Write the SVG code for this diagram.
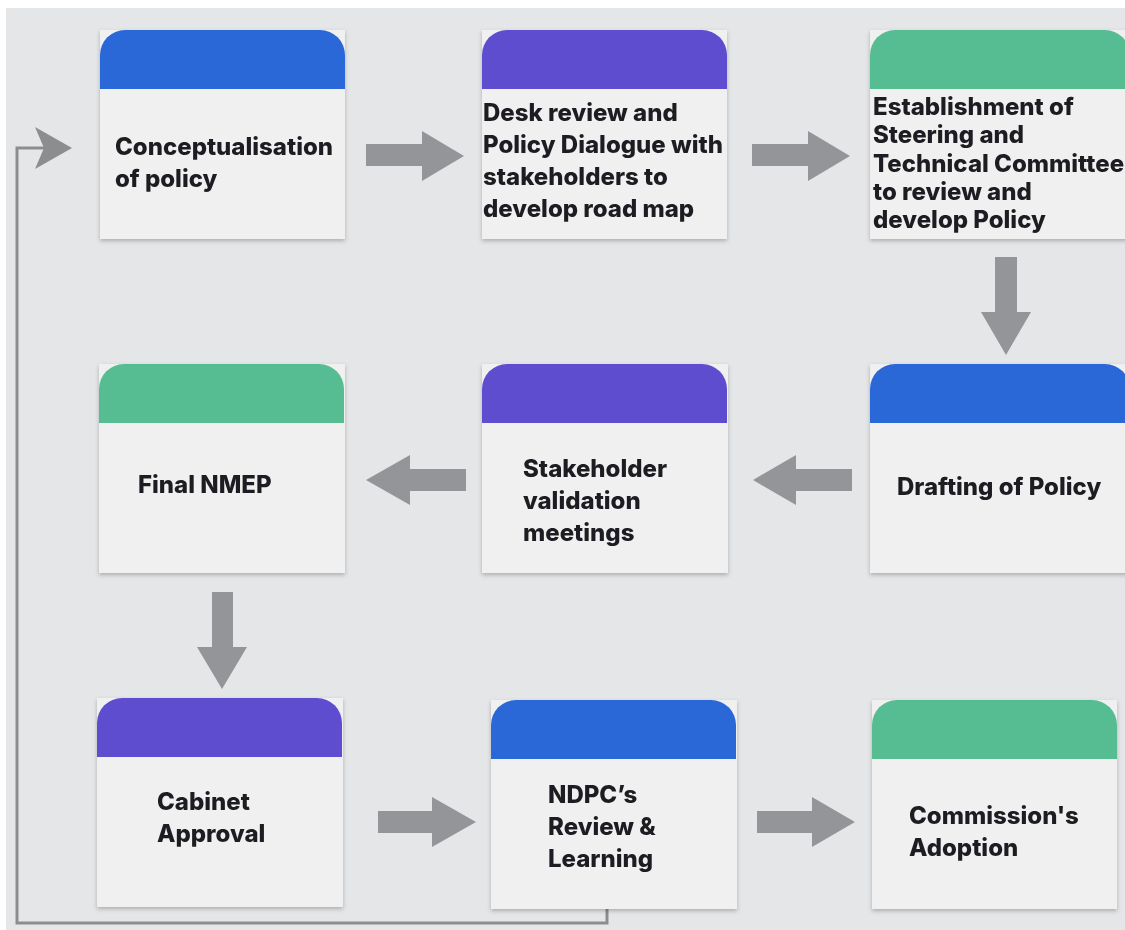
<svg xmlns="http://www.w3.org/2000/svg" width="1125" height="930" viewBox="0 0 1125 930">
<style>
.body{fill:#f0f0f1;}
.blue{fill:#2a67d8;}
.purple{fill:#5e4dd0;}
.green{fill:#57bd93;}
.lbl{font-family:Inter,"Liberation Sans",sans-serif;font-weight:800;font-size:24px;fill:#1e1e20;}
.blk{fill:#939598;}
.fb{fill:none;stroke:#8c8d8f;stroke-width:3;}
.fbh{fill:#8c8d8f;}
</style>
<defs>
<filter id="sh" x="-10%" y="-10%" width="120%" height="125%">
<feDropShadow dx="0" dy="2" stdDeviation="2" flood-color="#000" flood-opacity="0.25"/>
</filter>
<path id="hdr" d="M0,59 V25 A25,25 0 0 1 25,0 H220 A25,25 0 0 1 245,25 V59 Z"/>
<path id="hdrw" d="M0,59 V25 A25,25 0 0 1 25,0 H235 A25,25 0 0 1 260,25 V59 Z"/>
</defs>
<rect x="0" y="0" width="1125" height="930" fill="#ffffff"/>
<rect x="6" y="8" width="1119" height="922" fill="#e5e6e8"/>

<g id="connectors">
<polygon class="blk" points="366,144 422,144 422,131 464,156 422,181 422,166 366,166"/>
<polygon class="blk" points="752,144 808,144 808,131 850,156 808,181 808,166 752,166"/>
<polygon class="blk" points="995,257 1017,257 1017,312 1031,312 1006,355 981,312 995,312"/>
<polygon class="blk" points="852,469 796,469 796,455 753,480 796,505 796,491 852,491"/>
<polygon class="blk" points="466,469 410,469 410,455 366,480 410,505 410,491 466,491"/>
<polygon class="blk" points="212,592 233,592 233,647 247,647 222,689 197,647 212,647"/>
<polygon class="blk" points="378,811 432,811 432,797 476,822 432,847 432,833 378,833"/>
<polygon class="blk" points="757,811 812,811 812,797 855,822 812,847 812,833 757,833"/>
<polyline class="fb" points="607,909 607,923 17,923 17,148 46,148"/>
<polygon class="fbh" points="72,148 35,127 44,148 35,169"/>
</g>

<g id="n1" filter="url(#sh)">
<rect class="body" x="100" y="30" width="245" height="209"/>
<use href="#hdr" class="blue" x="100" y="30"/>
<text class="lbl" x="115" y="155">Conceptualisation</text>
<text class="lbl" x="115" y="187">of policy</text>
</g>

<g id="n2" filter="url(#sh)">
<rect class="body" x="482" y="30" width="245" height="209"/>
<use href="#hdr" class="purple" x="482" y="30"/>
<text class="lbl" x="483" y="121">Desk review and</text>
<text class="lbl" x="483" y="153">Policy Dialogue with</text>
<text class="lbl" x="483" y="185">stakeholders to</text>
<text class="lbl" x="483" y="217">develop road map</text>
</g>

<g id="n3" filter="url(#sh)">
<rect class="body" x="870" y="30" width="260" height="209"/>
<use href="#hdrw" class="green" x="870" y="30"/>
<text class="lbl" x="873" y="115">Establishment of</text>
<text class="lbl" x="873" y="143">Steering and</text>
<text class="lbl" x="873" y="172">Technical Committee</text>
<text class="lbl" x="873" y="200">to review and</text>
<text class="lbl" x="873" y="228">develop Policy</text>
</g>

<g id="n4" filter="url(#sh)">
<rect class="body" x="99" y="364" width="246" height="209"/>
<use href="#hdr" class="green" x="99" y="364"/>
<text class="lbl" x="138" y="493">Final NMEP</text>
</g>

<g id="n5" filter="url(#sh)">
<rect class="body" x="482" y="364" width="246" height="209"/>
<use href="#hdr" class="purple" x="482" y="364"/>
<text class="lbl" x="523" y="477">Stakeholder</text>
<text class="lbl" x="523" y="509">validation</text>
<text class="lbl" x="523" y="541">meetings</text>
</g>

<g id="n6" filter="url(#sh)">
<rect class="body" x="870" y="364" width="260" height="209"/>
<use href="#hdrw" class="blue" x="870" y="364"/>
<text class="lbl" x="897" y="495">Drafting of Policy</text>
</g>

<g id="n7" filter="url(#sh)">
<rect class="body" x="97" y="698" width="246" height="209"/>
<use href="#hdr" class="purple" x="97" y="698"/>
<text class="lbl" x="157" y="810">Cabinet</text>
<text class="lbl" x="157" y="842">Approval</text>
</g>

<g id="n8" filter="url(#sh)">
<rect class="body" x="491" y="700" width="246" height="209"/>
<use href="#hdr" class="blue" x="491" y="700"/>
<text class="lbl" x="548" y="803">NDPC’s</text>
<text class="lbl" x="548" y="835">Review &amp;</text>
<text class="lbl" x="548" y="867">Learning</text>
</g>

<g id="n9" filter="url(#sh)">
<rect class="body" x="872" y="700" width="245" height="209"/>
<use href="#hdr" class="green" x="872" y="700"/>
<text class="lbl" x="909" y="824">Commission's</text>
<text class="lbl" x="909" y="856">Adoption</text>
</g>
</svg>
